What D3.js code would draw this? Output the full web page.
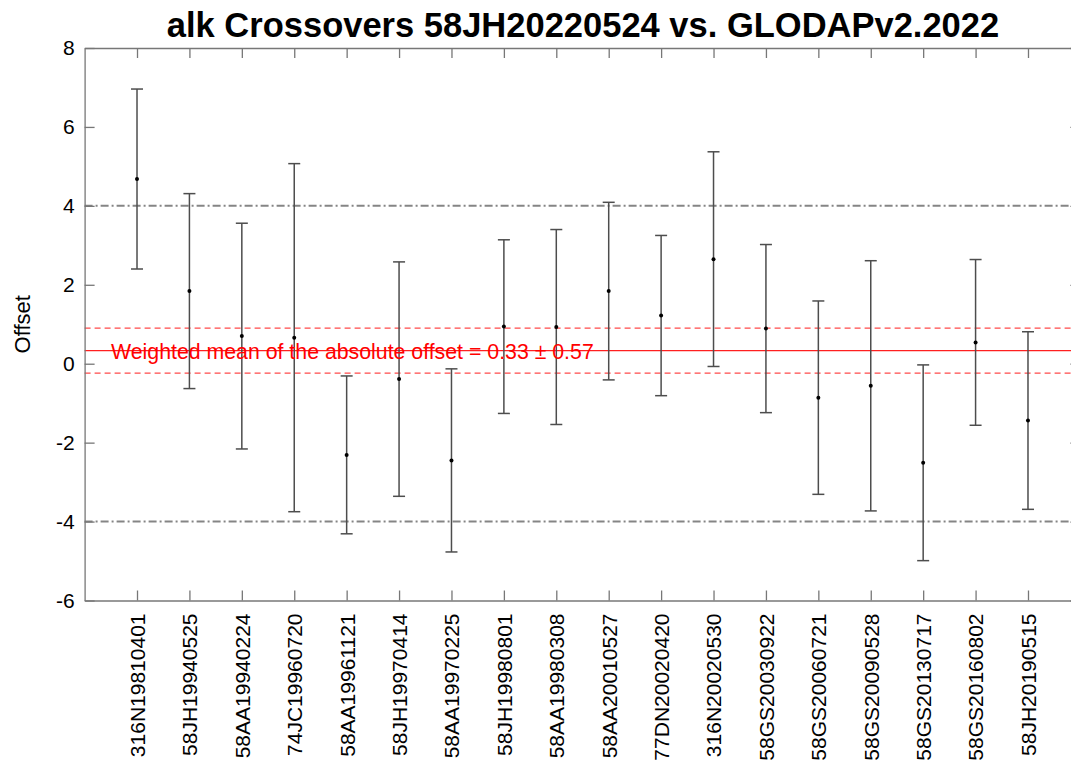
<!DOCTYPE html>
<html>
<head>
<meta charset="utf-8">
<script src="https://cdn.jsdelivr.net/npm/d3@7"></script>
<style>
  html, body { margin: 0; padding: 0; background: #ffffff; }
  svg { display: block; font-family: "Liberation Sans", Arial, sans-serif; }
</style>
</head>
<body>
<svg id="chart" width="1071" height="761"></svg>
<script>
// ---- data ----
const categories = ["316N19810401","58JH19940525","58AA19940224","74JC19960720","58AA19961121",
  "58JH19970414","58AA19970225","58JH19980801","58AA19980308","58AA20010527","77DN20020420",
  "316N20020530","58GS20030922","58GS20060721","58GS20090528","58GS20130717","58GS20160802","58JH20190515"];
const offsets = [4.68, 1.84, 0.70, 0.66, -2.31, -0.39, -2.45, 0.94, 0.93, 1.84, 1.22, 2.65, 0.89, -0.86, -0.56, -2.51, 0.54, -1.44];
const errors  = [2.28, 2.47, 2.86, 4.41, 2.00, 2.97, 2.32, 2.20, 2.47, 2.25, 2.03, 2.72, 2.13, 2.45, 3.17, 2.48, 2.10, 2.25];
const yTicks = [-6, -4, -2, 0, 2, 4, 6, 8];
const thresholds = [4, -4];
const meanOffset = [0.33];
const meanSpread = [0.57];
const titleText = "alk Crossovers 58JH20220524 vs. GLODAPv2.2022";
const yLabelText = "Offset";

(function () {
// ---- layout ----
const svg = d3.select("#chart");
const pL = 84.6, pR = 1080.4, pT = 48, pB = 600.5;
const x = d3.scaleLinear().domain([0, categories.length + 1]).range([pL, pR]);
const y = d3.scaleLinear().domain([-6, 8]).range([pB, pT]);
const axisColor = "#777";
const idx = categories.map((c, i) => i + 1);

// threshold lines
svg.selectAll("line.thr").data(thresholds).join("line")
  .attr("class", "thr")
  .attr("x1", pL).attr("x2", pR)
  .attr("y1", d => y(d)).attr("y2", d => y(d))
  .attr("stroke", "#858585").attr("stroke-width", 2)
  .attr("stroke-dasharray", "8,3,2,3");

// mean lines
const m = meanOffset[0], s = meanSpread[0];
svg.append("line").attr("x1", pL).attr("x2", pR)
  .attr("y1", y(m)).attr("y2", y(m))
  .attr("stroke", "#ff2020").attr("stroke-width", 1.3);
svg.selectAll("line.spread").data([m + s, m - s]).join("line")
  .attr("class", "spread")
  .attr("x1", pL).attr("x2", pR)
  .attr("y1", d => y(d)).attr("y2", d => y(d))
  .attr("stroke", "#ff4a4a").attr("stroke-width", 1.2)
  .attr("stroke-dasharray", "6,4");

// error bars
const g = svg.append("g");
const bars = g.selectAll("g.bar").data(idx).join("g").attr("class", "bar");
bars.append("line")
  .attr("x1", i => x(i)).attr("x2", i => x(i))
  .attr("y1", i => y(offsets[i-1] + errors[i-1]))
  .attr("y2", i => y(offsets[i-1] - errors[i-1]))
  .attr("stroke", "#4d4d4d").attr("stroke-width", 1.5);
bars.append("line")
  .attr("x1", i => x(i) - 6).attr("x2", i => x(i) + 6)
  .attr("y1", i => y(offsets[i-1] + errors[i-1]))
  .attr("y2", i => y(offsets[i-1] + errors[i-1]))
  .attr("stroke", "#4d4d4d").attr("stroke-width", 1.5);
bars.append("line")
  .attr("x1", i => x(i) - 6).attr("x2", i => x(i) + 6)
  .attr("y1", i => y(offsets[i-1] - errors[i-1]))
  .attr("y2", i => y(offsets[i-1] - errors[i-1]))
  .attr("stroke", "#4d4d4d").attr("stroke-width", 1.5);
bars.append("circle")
  .attr("cx", i => x(i)).attr("cy", i => y(offsets[i-1]))
  .attr("r", 2).attr("fill", "#000");

// mean label
svg.append("text")
  .attr("x", 111).attr("y", y(m) + 8)
  .attr("fill", "#ff0000").attr("font-size", 21.3)
  .text("Weighted mean of the absolute offset = " + m.toFixed(2) + " \u00b1 " + s.toFixed(2));

// axes
const xAxis = d3.axisBottom(x).tickValues(idx).tickFormat(i => categories[i-1])
  .tickSizeInner(-10).tickSizeOuter(0).tickPadding(13);
const gx = svg.append("g").attr("transform", `translate(0,${pB})`).call(xAxis);
gx.selectAll("text")
  .attr("transform", "rotate(-90)")
  .attr("x", -13).attr("y", 0).attr("dy", "0.35em")
  .style("text-anchor", "end")
  .attr("font-size", 21).attr("fill", "#000");

const xTop = d3.axisTop(x).tickValues(idx).tickFormat("").tickSizeInner(-10).tickSizeOuter(0);
svg.append("g").attr("transform", `translate(0,${pT})`).call(xTop);

const yAxis = d3.axisLeft(y).tickValues(yTicks).tickFormat(d => String(d))
  .tickSizeInner(-10).tickSizeOuter(0).tickPadding(10);
const gy = svg.append("g").attr("transform", `translate(${pL},0)`).call(yAxis);
gy.selectAll("text").attr("font-size", 21).attr("fill", "#000").attr("x", -10);

const yRight = d3.axisRight(y).tickValues(yTicks).tickFormat("").tickSizeInner(-10).tickSizeOuter(0);
svg.append("g").attr("transform", `translate(${pR},0)`).call(yRight);

svg.selectAll(".domain").attr("stroke", axisColor).attr("stroke-width", 1.3);
svg.selectAll(".tick line").attr("stroke", axisColor).attr("stroke-width", 1.3);

// title
svg.append("text")
  .attr("x", 583).attr("y", 37)
  .attr("text-anchor", "middle")
  .attr("font-size", 34.5).attr("font-weight", "bold").attr("fill", "#000")
  .text(titleText);

// y label
svg.append("text")
  .attr("transform", `translate(30,${(pT + pB) / 2}) rotate(-90)`)
  .attr("text-anchor", "middle")
  .attr("font-size", 22).attr("fill", "#000")
  .text(yLabelText);
})();
</script>
</body>
</html>
